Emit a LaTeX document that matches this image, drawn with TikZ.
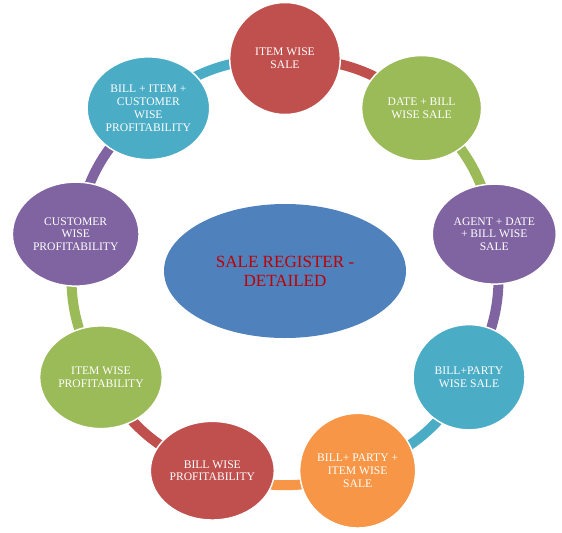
\documentclass[tikz,border=0pt]{standalone}
\usepackage{fontspec}
\setmainfont{Liberation Serif}
\usetikzlibrary{shapes.geometric,backgrounds}
\definecolor{clrB}{HTML}{4F81BD}
\definecolor{clrR}{HTML}{C0504D}
\definecolor{clrG}{HTML}{9BBB59}
\definecolor{clrP}{HTML}{8064A2}
\definecolor{clrA}{HTML}{4BACC6}
\definecolor{clrO}{HTML}{F79646}
\definecolor{clrT}{HTML}{C00000}

\begin{document}
\begin{tikzpicture}[x=0.75pt,y=0.75pt,
    stage/.style={ellipse,draw=white,line width=1.1pt,text=white,align=center,
      inner sep=0pt,font=\fontsize{8.7}{9.6}\selectfont},
    band/.style={line width=7.5pt}]
  \useasboundingbox (0,0) rectangle (562,-533);
  \def\cx{285} \def\cy{-271} \def\R{212.5}

  % --- hub ---
  \node[ellipse,fill=clrB,minimum width=181.5pt,minimum height=100.5pt,
        align=center,text=clrT,font=\fontsize{12.8}{14.3}\selectfont] (hub) at (\cx,\cy)
    {SALE REGISTER -\\DETAILED};

  % --- ring of reports ---
  \begin{scope}[shift={(\cx,\cy)}]
  \foreach \a/\nm/\clr/\w/\h/\txt in {%
     90/isale/clrR/83/84/{ITEM WISE\\SALE},
     50/dsale/clrG/90/79/{DATE + BILL\\WISE SALE},
     10/asale/clrP/93/75/{AGENT + DATE\\+ BILL WISE\\SALE},
    -30/psale/clrA/84/79/{BILL+PARTY\\WISE SALE},
    -70/pisale/clrO/87/86/{BILL+ PARTY +\\ITEM WISE\\SALE},
   -110/bprof/clrR/93/74/{BILL WISE\\PROFITABILITY},
   -150/iprof/clrG/92/77/{ITEM WISE\\PROFITABILITY},
    170/cprof/clrP/95/78/{CUSTOMER\\WISE\\PROFITABILITY},
    130/biprof/clrA/92/77/{BILL + ITEM +\\CUSTOMER\\WISE\\PROFITABILITY}}{
      \node[stage,fill=\clr,minimum width=\w pt,minimum height=\h pt] (\nm) at (\a:\R) {\txt};
  }
  \end{scope}

  % --- links ---
  \begin{scope}[on background layer]
  \foreach \p/\q/\clr in {isale/dsale/clrR, dsale/asale/clrG, asale/psale/clrP,
      psale/pisale/clrA, pisale/bprof/clrO, bprof/iprof/clrR, iprof/cprof/clrG,
      cprof/biprof/clrP, biprof/isale/clrA}
    \draw[band,draw=\clr] (\p.center) to[bend left=20] (\q.center);
  \end{scope}
\end{tikzpicture}
\end{document}
